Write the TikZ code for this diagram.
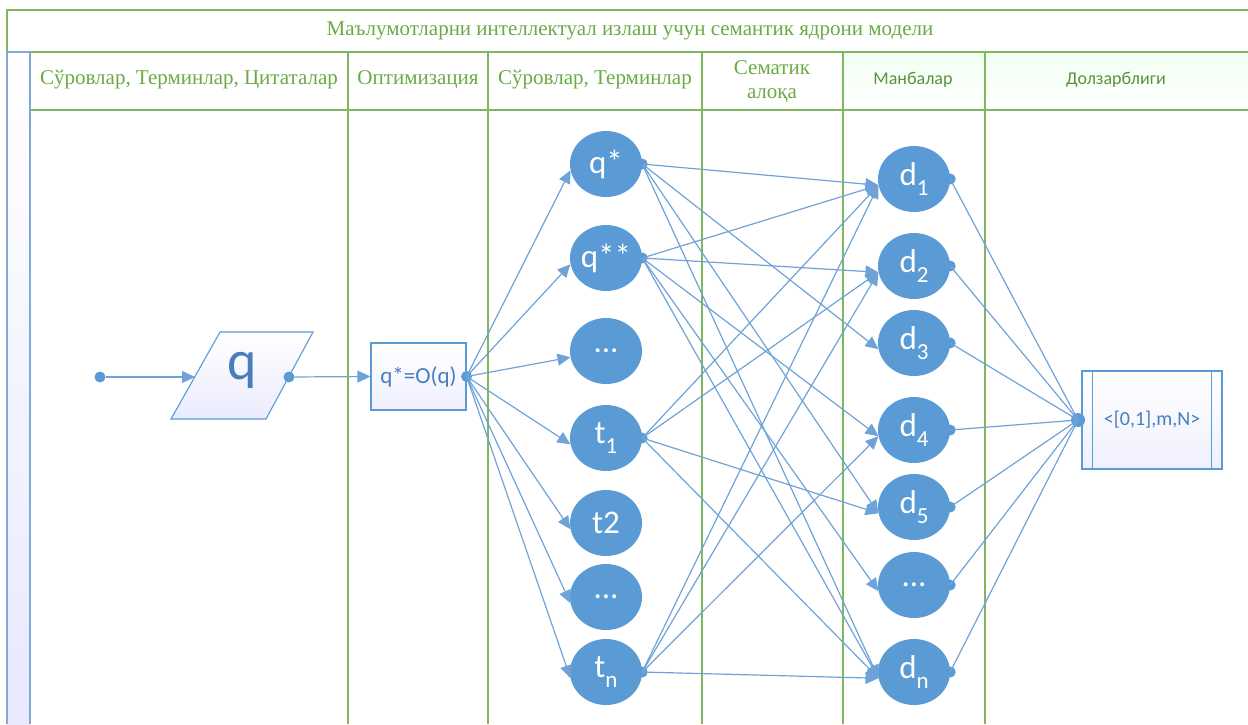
\documentclass[tikz,border=0pt]{standalone}
\usepackage{fontspec}
\setmainfont{Liberation Serif}
\newfontfamily\cfont{Carlito}
\usetikzlibrary{shapes.geometric,arrows.meta,calc}
\definecolor{cblue}{HTML}{5B9BD5}
\definecolor{lblue}{HTML}{6FA3D8}
\definecolor{bandblue}{HTML}{7FA9D6}
\definecolor{cgreen}{HTML}{7DB85E}
\definecolor{tgreen}{HTML}{6AAA45}
\definecolor{qtext}{HTML}{4A7EBB}
\newcommand\subx[1]{\raisebox{-0.3em}{\fontsize{23}{23}\selectfont #1}}
\begin{document}
\begin{tikzpicture}[x=1pt,y=-1pt,
  gl/.style={draw=cgreen, line width=1.3pt},
  hd/.style={text=tgreen, font=\fontsize{21}{24}\selectfont, align=center, inner sep=0pt},
  hds/.style={text=tgreen!85!black, font=\cfont\fontsize{18}{20}\selectfont, inner sep=0pt},
  circ/.style={ellipse, fill=cblue, minimum width=72pt, minimum height=66pt, inner sep=0pt, text=white, font=\cfont\fontsize{33}{33}\selectfont},
  dot/.style={circle, fill=cblue, inner sep=0pt, minimum size=11pt},
  ln/.style={draw=lblue, line width=1.2pt},
  arr/.style={ln, -{Triangle[length=13pt,width=12pt]}},
  boxs/.style={draw=cblue, line width=1.1pt, top color=white, bottom color=blue!6!white, inner sep=0pt, text=qtext}
]
\useasboundingbox (0,0) rectangle (1248,724);
% header shading (last two cells)
\shade[top color=blue!2!green!5!white, bottom color=white] (843,52) rectangle (1248,110);
% left blue band
\shade[top color=white, bottom color=blue!9!white] (7,52) rectangle (30,724);
\draw[draw=bandblue, line width=1.3pt] (7,724) -- (7,52) -- (30,52) -- (30,724);
% green grid
\draw[gl] (7,52) -- (7,10) -- (1248,10);
\draw[gl] (30,52) -- (1248,52);
\draw[gl] (30,110) -- (1248,110);
\foreach \x in {348,488,702,843,985} \draw[gl] (\x,52) -- (\x,724);
% titles
\node[hd] (title) at (630,31) {Маълумотларни интеллектуал излаш учун семантик ядрони модели};
\node[hd] (h1) at (189,80) {Сўровлар, Терминлар, Цитаталар};
\node[hd] (h2) at (418,80) {Оптимизация};
\node[hd] (h3) at (595,80) {Сўровлар, Терминлар};
\node[hd] (h4) at (772,82) {Сематик\\алоқа};
\node[hds] (h5) at (913,80) {Манбалар};
\node[hds] (h6) at (1116,80) {Долзарблиги};

% input
\node[dot] (s) at (100,377) {};
\shade[top color=white, bottom color=blue!8!white] (220,332) -- (313,332) -- (266,419) -- (171,419) -- cycle;
\draw[draw=cblue, line width=1.1pt] (220,332) -- (313,332) -- (266,419) -- (171,419) -- cycle;
\node[text=qtext, font=\cfont\fontsize{56}{56}\selectfont, inner sep=0pt] (q) at (242,370) {q};
\coordinate (qin) at (195,377);
\node[dot] (qout) at (289,377) {};
\draw[arr] (s) -- (qin);

\node[boxs, minimum width=95pt, minimum height=67pt, font=\cfont\fontsize{23}{23}\selectfont] (opt) at (418.5,376.5) {q*=O(q)};
\draw[arr] (qout) -- (opt.west);
\node[dot] (optd) at (opt.east) {};

% middle column
\node[circ] (m1) at (606,164) {q*};
\node[circ] (m2) at (606,258) {q**};
\node[circ] (m3) at (606,351) {...};
\node[circ] (m4) at (606,438) {t\subx{1}};
\node[circ] (m5) at (606,523) {t2};
\node[circ] (m6) at (606,597) {...};
\node[circ] (m7) at (606,672) {t\subx{n}};
\foreach \m in {m1,m2,m3,m4,m5,m6,m7} \draw[arr] (optd.center) -- (\m.190);
\foreach \m in {m1,m2,m4,m7} \node[dot] (\m o) at (\m.east) {};

% sources column
\node[circ] (d1) at (914,179) {d\subx{1}};
\node[circ] (d2) at (914,266) {d\subx{2}};
\node[circ] (d3) at (914,343) {d\subx{3}};
\node[circ] (d4) at (914,430) {d\subx{4}};
\node[circ] (d5) at (914,507) {d\subx{5}};
\node[circ] (d6) at (914,585) {...};
\node[circ] (d7) at (914,672) {d\subx{n}};
\foreach \d in {d1,d2,d3,d4,d5,d6,d7} \node[dot] (\d o) at (\d.east) {};

% semantic links
\foreach \d in {d1,d3,d5,d7} \draw[arr] (m1o.center) -- (\d.190);
\foreach \d in {d1,d2,d4,d6,d7} \draw[arr] (m2o.center) -- (\d.190);
\foreach \d in {d1,d2,d5,d7} \draw[arr] (m4o.center) -- (\d.190);
\foreach \d in {d1,d2,d4,d7} \draw[arr] (m7o.center) -- (\d.190);

% relevance box
\node[boxs, minimum width=140pt, minimum height=98pt, font=\cfont\fontsize{20}{20}\selectfont] (rel) at (1152,420) {<[0,1],m,N>};
\draw[draw=cblue, line width=1.1pt] ($(rel.north west)+(11,0)$) -- ($(rel.south west)+(11,0)$);
\draw[draw=cblue, line width=1.1pt] ($(rel.north east)+(-11,0)$) -- ($(rel.south east)+(-11,0)$);
\node[dot, minimum size=14pt] (reld) at (1078,420) {};
\foreach \d in {d1,d2,d3,d4,d5,d6,d7} \draw[ln] (\d o.center) -- (reld.center);
\end{tikzpicture}
\end{document}
